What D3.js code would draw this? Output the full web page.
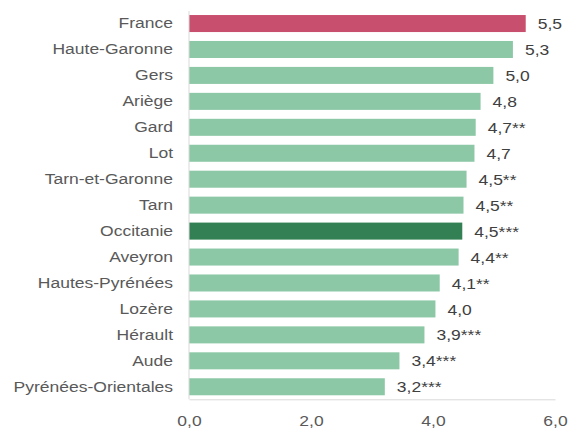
<!DOCTYPE html>
<html>
<head>
<meta charset="utf-8">
<script src="https://cdn.jsdelivr.net/npm/d3@7"></script>
<style>
  body { margin: 0; background: #fff; }
  text { font-family: "Liberation Sans", Arial, sans-serif; }
</style>
</head>
<body>
<svg id="chart" width="575" height="433"></svg>
<script>
var categories = ["France", "Haute-Garonne", "Gers", "Ariège", "Gard", "Lot",
  "Tarn-et-Garonne", "Tarn", "Occitanie", "Aveyron", "Hautes-Pyrénées",
  "Lozère", "Hérault", "Aude", "Pyrénées-Orientales"];
var values = [5.52, 5.31, 4.99, 4.78, 4.70, 4.68, 4.55, 4.50, 4.48, 4.42, 4.11, 4.04, 3.86, 3.45, 3.21];
var valueLabels = ["5,5", "5,3", "5,0", "4,8", "4,7**", "4,7", "4,5**", "4,5**",
  "4,5***", "4,4**", "4,1**", "4,0", "3,9***", "3,4***", "3,2***"];
var xTicks = [0, 2, 4, 6];

var svg = d3.select("#chart");
var plotLeft = 189, plotRight = 555, plotTop = 11, plotBottom = 399.3;
var fontSize = 15.5, stretch = 1.13; // reference text is a bit wide

var x = d3.scaleLinear().domain([0, 6]).range([plotLeft, plotRight]);
var y = d3.scaleBand().domain(categories).range([plotTop, plotBottom])
  .paddingInner(0.344).paddingOuter(0.155);

var fr = d3.formatLocale({ decimal: ",", thousands: " ", grouping: [3], currency: ["", "€"] });
var fmt = fr.format(".1f");

function barColor(d) {
  if (d == "France") return "#c8506e";
  if (d == "Occitanie") return "#338055";
  return "#8cc8a6";
}

// bars
svg.selectAll("rect.bar").data(categories).enter().append("rect")
  .attr("class", "bar")
  .attr("x", x(0))
  .attr("y", function(d) { return y(d); })
  .attr("width", function(d, i) { return x(values[i]) - x(0); })
  .attr("height", y.bandwidth())
  .attr("fill", barColor);

// value labels
svg.selectAll("text.val").data(categories).enter().append("text")
  .attr("class", "val")
  .attr("transform", function(d, i) {
    return "translate(" + (x(values[i]) + 12) + "," + (y(d) + y.bandwidth() / 2) + ") scale(" + stretch + ",1)";
  })
  .attr("dy", "0.36em")
  .attr("font-size", fontSize)
  .attr("fill", "#404040")
  .text(function(d, i) { return valueLabels[i]; });

// y axis
var yAxis = svg.append("g").attr("transform", "translate(" + plotLeft + ",0)")
  .call(d3.axisLeft(y).tickSize(0).tickPadding(16));
yAxis.select(".domain").attr("stroke", "#d9d9d9").attr("d", "M0," + plotTop + "V" + plotBottom);
yAxis.selectAll("text").attr("font-size", fontSize).attr("fill", "#595959")
  .attr("x", -16 / stretch)
  .attr("transform", "scale(" + stretch + ",1)");

// x axis
var xAxis = svg.append("g").attr("transform", "translate(0," + plotBottom + ")")
  .call(d3.axisBottom(x).tickValues(xTicks).tickSize(0).tickPadding(16).tickFormat(fmt));
xAxis.select(".domain").attr("stroke", "#d9d9d9");
xAxis.selectAll("text").attr("font-size", fontSize).attr("fill", "#595959")
  .attr("transform", "scale(" + stretch + ",1)");
</script>
</body>
</html>
